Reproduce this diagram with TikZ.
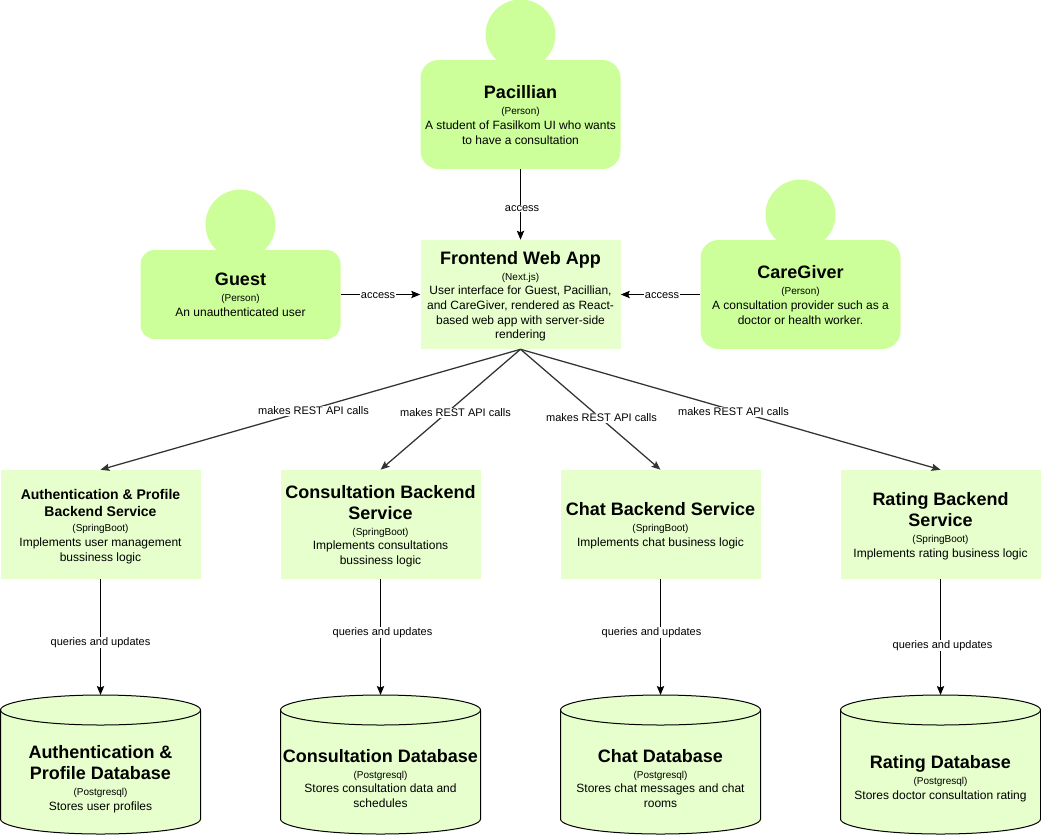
\documentclass[tikz,border=0pt]{standalone}
\usepackage{fontspec}
\setmainfont{Liberation Sans}
\usetikzlibrary{arrows.meta}
\newcommand\placed[2]{\raisebox{-#1}[0pt][0pt]{\parbox[c]{150pt}{\centering #2}}}
\newcommand\entity[4][3.7pt]{\placed{#1}{{\fontsize{13.5}{15.75}\selectfont\bfseries #2\par}{\fontsize{7.5}{12}\selectfont (#3)\par}{\fontsize{9}{11}\selectfont #4\par}}}
\newcommand\entitysm[4][4.1pt]{\placed{#1}{{\fontsize{10.5}{12.75}\selectfont\bfseries #2\par}{\fontsize{7.5}{11.25}\selectfont (#3)\par}{\fontsize{9}{11}\selectfont #4\par}}}
\newcommand\dbshape[2]{%
  \draw[dbline] (#1-100,710) -- (#1-100,819)
    arc[start angle=180,end angle=360,x radius=75pt,y radius=11.25pt]
    -- (#1+100,710)
    arc[start angle=0,end angle=180,x radius=75pt,y radius=11.25pt] -- cycle;
  \draw[dbline,fill=none] (#1-100,710)
    arc[start angle=180,end angle=360,x radius=75pt,y radius=11.25pt];
  \coordinate (#2) at (#1,695);
}
\tikzset{
  personfill/.style={fill=person,draw=none},
  body/.style={personfill,rounded corners=13.5pt,inner sep=0pt,minimum width=150pt},
  head/.style={personfill,circle,inner sep=0pt,minimum size=52.5pt},
  service/.style={fill=soft,draw=none,inner sep=0pt,minimum width=150pt,minimum height=81.75pt},
  dbtext/.style={inner sep=0pt,minimum width=150pt},
  dbline/.style={draw=black,fill=soft,line width=.75pt},
  conn/.style={draw=black,line width=.75pt,-{Stealth[length=6.75pt,width=5.5pt,inset=1.2pt]}},
  diag/.style={conn,draw=black!80,line width=.95pt},
  lab/.style={fill=white,inner sep=.6pt,font=\fontsize{8.25}{10}\selectfont},
}
\definecolor{person}{HTML}{CCFF99}
\definecolor{soft}{HTML}{E6FFCC}
\begin{document}
\begin{tikzpicture}[x=.75pt,y=-.75pt]
\useasboundingbox (0,0) rectangle (1041,836);
% people
\node[head] (pachead) at (520.5,34.5) {};
\node[head] (guesthead) at (240.5,224.5) {};
\node[head] (carehead) at (800.5,214.5) {};
\node[body,minimum height=81.75pt,rounded corners=13.5pt] (pac) at (520.5,114.5) {\entity[3pt]{Pacillian}{Person}{A student of Fasilkom UI who wants\\to have a consultation}};
\node[body,minimum height=66.75pt,rounded corners=10.5pt] (guest) at (240.5,294.5) {\entity[2.9pt]{Guest}{Person}{An unauthenticated user}};
\node[body,minimum height=81.75pt,rounded corners=13.5pt] (care) at (800.5,294.5) {\entity[3pt]{CareGiver}{Person}{A consultation provider such as a\\doctor or health worker.}};
% frontend
\node[service] (fe) at (520.5,294.5) {\entity{Frontend Web App}{Next.js}{User interface for Guest, Pacillian,\\and CareGiver, rendered as React-\\based web app with server-side\\rendering}};
% services
\node[service] (s1) at (100.5,524.5) {\entitysm{Authentication \& Profile\\Backend Service}{SpringBoot}{Implements user management\\bussiness logic}};
\node[service] (s2) at (380.5,524.5) {\entity{Consultation Backend\\Service}{SpringBoot}{Implements consultations\\bussiness logic}};
\node[service] (s3) at (660.5,524.5) {\entity[3.35pt]{Chat Backend Service}{SpringBoot}{Implements chat business logic}};
\node[service] (s4) at (940.5,524.5) {\entity[3.75pt]{Rating Backend\\Service}{SpringBoot}{Implements rating business logic}};
% databases
\dbshape{100.5}{t1}
\dbshape{380.5}{t2}
\dbshape{660.5}{t3}
\dbshape{940.5}{t4}
\node[dbtext] (d1) at (100.5,777.5) {\entity[3.9pt]{Authentication \&\\Profile Database}{Postgresql}{Stores user profiles}};
\node[dbtext] (d2) at (380.5,777.5) {\entity[3.1pt]{Consultation Database}{Postgresql}{Stores consultation data and\\schedules}};
\node[dbtext] (d3) at (660.5,777.5) {\entity[3.1pt]{Chat Database}{Postgresql}{Stores chat messages and chat\\rooms}};
\node[dbtext] (d4) at (940.5,777.5) {\entity[3.5pt]{Rating Database}{Postgresql}{Stores doctor consultation rating}};
% connectors
\draw[conn] (pac.south) -- (fe.north);
\draw[conn] (guest.east) -- (fe.west);
\draw[conn] (care.west) -- (fe.east);
\draw[diag] (fe.south) -- (s1.north);
\draw[diag] (fe.south) -- (s2.north);
\draw[diag] (fe.south) -- (s3.north);
\draw[diag] (fe.south) -- (s4.north);
\draw[conn] (s1.south) -- (t1);
\draw[conn] (s2.south) -- (t2);
\draw[conn] (s3.south) -- (t3);
\draw[conn] (s4.south) -- (t4);
% labels
\node[lab] (l1) at (522,208.5) {access};
\node[lab] (l2) at (378,296) {access};
\node[lab] (l3) at (662,296) {access};
\node[lab] (l4) at (313.5,411) {makes REST API calls};
\node[lab] (l5) at (455.5,413) {makes REST API calls};
\node[lab] (l6) at (601.5,418) {makes REST API calls};
\node[lab] (l7) at (733.5,412) {makes REST API calls};
\node[lab] (l8) at (100.5,642.5) {queries and updates};
\node[lab] (l9) at (382.5,632.5) {queries and updates};
\node[lab] (l10) at (651.5,632.5) {queries and updates};
\node[lab] (l11) at (942.5,645.5) {queries and updates};
\end{tikzpicture}
\end{document}
